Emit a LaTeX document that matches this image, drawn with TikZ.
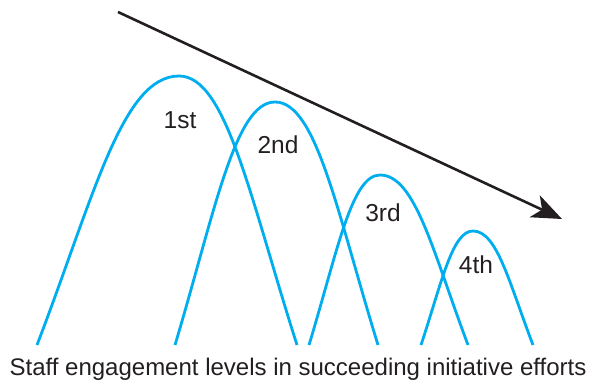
\documentclass[tikz,border=0pt]{standalone}
\usepackage{fontspec}
\setmainfont{Liberation Sans}
\usetikzlibrary{arrows.meta,positioning}
\definecolor{archblue}{HTML}{00AEEF}
\definecolor{inkdark}{HTML}{231F20}

\begin{document}
\begin{tikzpicture}[
  x=1pt,y=-1pt,
  effort/.style={archblue,line width=2.8pt},
  trend/.style={-{Stealth[length=30pt,width=24pt,inset=8pt]},inkdark,line width=2.6pt},
  round label/.style={inkdark,font=\fontsize{24.5}{28}\selectfont,inner sep=0pt},
  caption/.style={inkdark,font=\fontsize{24}{28}\selectfont,inner sep=0pt}
]
\useasboundingbox (0,0) rectangle (596,387);
% falling trend
\coordinate (t0) at (118,12);
\coordinate (t1) at (562,219);
\draw[trend] (t0) -- (t1);
% the four efforts
\draw[effort] (37,345) .. controls (93.8,197) and (122.2,76) .. (179,76)
  .. controls (226.2,76) and (249.8,197) .. (297,345);
\draw[effort] (175,345) .. controls (215,211.3) and (235,102) .. (275,102)
  .. controls (316.2,102) and (336.8,211.3) .. (378,345);
\draw[effort] (309,345) .. controls (337.4,251.5) and (351.6,175) .. (380,175)
  .. controls (415.2,175) and (432.8,251.5) .. (468,345);
\draw[effort] (421,345) .. controls (441.8,282.3) and (452.2,231) .. (473,231)
  .. controls (497,231) and (509,282.3) .. (533,345);
\node[round label] (r1) at (180,120) {1st};
\node[round label] (r2) at (278,145) {2nd};
\node[round label] (r3) at (383,213) {3rd};
\node[round label] (r4) at (476,265) {4th};
\node[caption] (cap) at (298,369) {Staff engagement levels in succeeding initiative efforts};
\end{tikzpicture}
\end{document}
